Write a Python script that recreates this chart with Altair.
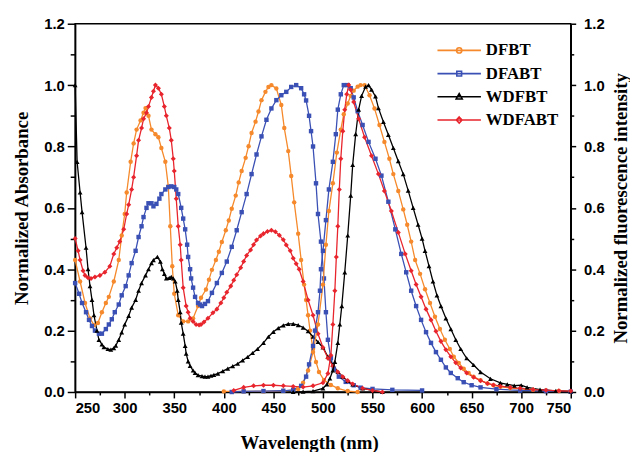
import altair as alt
import pandas as pd

SERIES = ["DFBT", "DFABT", "WDFBT", "WDFABT"]
COLORS = ["#F5892B", "#3A50B4", "#000000", "#E8242C"]
SHAPES = ["circle", "square", "triangle-up", "diamond"]
SIZES = [20, 20, 24, 26]

# ---------- absorbance ----------
DFBT_abs_nm = [250, 255, 260, 265, 269, 273, 277, 281, 284, 289, 294, 297, 300, 302, 306, 309, 312, 316, 319, 321,
               324, 327, 331, 334, 337, 341, 344, 346, 348, 350, 354, 359, 364, 369, 374, 377, 382, 385, 388, 392,
               395, 398, 402, 405, 408, 412, 415, 418, 422, 425, 428, 432, 435, 438, 442, 445, 448, 453, 458, 461,
               465, 468, 471, 475, 478, 481, 483, 485, 487, 490, 493, 496, 501, 508, 515, 525, 535]
DFBT_abs = [0.43, 0.36, 0.29, 0.24, 0.218, 0.225, 0.26, 0.29, 0.31, 0.36, 0.43, 0.51, 0.58, 0.65, 0.75, 0.81, 0.855,
            0.885, 0.91, 0.925, 0.90, 0.855, 0.84, 0.83, 0.795, 0.75, 0.67, 0.54, 0.41, 0.32, 0.25, 0.23, 0.23, 0.24,
            0.28, 0.307, 0.334, 0.366, 0.398, 0.43, 0.457, 0.489, 0.527, 0.559, 0.597, 0.64, 0.683, 0.72, 0.763,
            0.801, 0.844, 0.881, 0.914, 0.951, 0.978, 0.994, 1.0, 0.989, 0.935, 0.86, 0.785, 0.704, 0.618, 0.516,
            0.43, 0.35, 0.30, 0.25, 0.20, 0.14, 0.098, 0.065, 0.039, 0.023, 0.012, 0.003, 0.0]

DFABT_abs_nm = [250, 254, 257, 261, 264, 267, 270, 274, 277, 281, 284, 287, 290, 294, 297, 301, 304, 307, 311, 314,
                317, 319, 322, 324, 327, 329, 332, 335, 337, 341, 344, 347, 350, 352, 354, 357, 359, 361, 363, 364,
                366, 367, 369, 371, 374, 376, 378, 381, 384, 388, 393, 398, 403, 408, 413, 418, 423, 428, 433, 438,
                443, 448, 453, 458, 463, 468, 473, 478, 481, 483, 486, 488, 490, 493, 495, 498, 501, 503, 505, 508,
                511, 516, 523, 531, 538, 550, 570, 600]
DFABT_abs = [0.355, 0.32, 0.29, 0.26, 0.235, 0.215, 0.20, 0.19, 0.19, 0.205, 0.22, 0.237, 0.26, 0.285, 0.315, 0.345,
             0.38, 0.42, 0.46, 0.505, 0.54, 0.57, 0.60, 0.615, 0.615, 0.605, 0.613, 0.63, 0.645, 0.66, 0.668, 0.67,
             0.668, 0.66, 0.645, 0.60, 0.565, 0.53, 0.48, 0.44, 0.40, 0.37, 0.34, 0.31, 0.29, 0.285, 0.28, 0.287,
             0.296, 0.323, 0.355, 0.388, 0.425, 0.473, 0.527, 0.586, 0.645, 0.71, 0.774, 0.833, 0.887, 0.924, 0.951,
             0.967, 0.978, 0.994, 1.0, 0.99, 0.97, 0.95, 0.90, 0.85, 0.80, 0.68, 0.58, 0.49, 0.37, 0.26, 0.17, 0.11,
             0.076, 0.05, 0.033, 0.022, 0.014, 0.01, 0.007, 0.005]

WDFBT_abs_nm = [250, 252, 255, 257, 261, 263, 265, 267, 269, 272, 274, 277, 279, 283, 286, 289, 291, 294, 297, 300,
                304, 307, 311, 314, 317, 321, 324, 327, 329, 333, 336, 338, 340, 342, 345, 347, 349, 351, 353, 354,
                356, 357, 359, 361, 362, 364, 366, 369, 371, 374, 378, 381, 384, 387, 390, 394, 399, 404, 409, 414,
                419, 424, 429, 434, 440, 445, 450, 455, 460, 465, 470, 475, 480, 485, 490, 495, 500, 505, 510, 515,
                520, 525, 530, 540, 550, 560]
WDFBT_abs = [1.0, 0.75, 0.65, 0.586, 0.47, 0.40, 0.345, 0.30, 0.25, 0.20, 0.17, 0.155, 0.146, 0.14, 0.138, 0.143,
             0.151, 0.17, 0.194, 0.22, 0.248, 0.275, 0.30, 0.33, 0.355, 0.38, 0.40, 0.42, 0.43, 0.44, 0.425, 0.40,
             0.385, 0.37, 0.372, 0.375, 0.37, 0.36, 0.33, 0.30, 0.26, 0.226, 0.19, 0.15, 0.125, 0.10, 0.085, 0.07,
             0.062, 0.055, 0.052, 0.05, 0.05, 0.053, 0.056, 0.06, 0.068, 0.076, 0.084, 0.092, 0.103, 0.114, 0.127,
             0.14, 0.16, 0.18, 0.196, 0.208, 0.217, 0.222, 0.222, 0.218, 0.21, 0.198, 0.18, 0.163, 0.145, 0.115,
             0.088, 0.066, 0.05, 0.036, 0.025, 0.012, 0.005, 0.0]

WDFABT_abs_nm = [250, 253, 255, 258, 260, 263, 266, 270, 275, 280, 285, 289, 292, 295, 299, 302, 304, 307, 309, 312,
                 314, 317, 319, 322, 324, 327, 329, 331, 334, 337, 340, 342, 345, 347, 349, 350, 352, 354, 356, 357,
                 359, 362, 364, 366, 369, 372, 375, 377, 380, 384, 389, 393, 397, 400, 403, 407, 410, 413, 417, 420,
                 423, 427, 430, 433, 437, 440, 444, 448, 452, 456, 460, 463, 467, 470, 473, 476, 480, 485, 490, 495,
                 500, 505, 510, 515, 520, 525, 530, 540, 550, 560]
WDFABT_abs = [0.50, 0.46, 0.43, 0.395, 0.38, 0.372, 0.37, 0.375, 0.38, 0.39, 0.41, 0.45, 0.47, 0.49, 0.53, 0.58,
              0.61, 0.66, 0.70, 0.77, 0.82, 0.86, 0.89, 0.91, 0.93, 0.96, 0.98, 1.0, 0.99, 0.97, 0.93, 0.90, 0.86,
              0.82, 0.76, 0.72, 0.63, 0.54, 0.48, 0.43, 0.34, 0.28, 0.26, 0.24, 0.23, 0.22, 0.218, 0.22, 0.228, 0.24,
              0.258, 0.27, 0.29, 0.307, 0.325, 0.345, 0.364, 0.382, 0.405, 0.425, 0.445, 0.463, 0.48, 0.495, 0.508,
              0.516, 0.523, 0.527, 0.522, 0.511, 0.496, 0.479, 0.46, 0.436, 0.418, 0.40, 0.36, 0.30, 0.25, 0.19,
              0.145, 0.11, 0.085, 0.065, 0.05, 0.037, 0.026, 0.012, 0.005, 0.0]

# ---------- fluorescence ----------
DFBT_em_nm = [400, 420, 440, 460, 470, 475, 480, 485, 490, 495, 500, 503, 506, 510, 514, 518, 521, 525, 528, 531,
              535, 538, 542, 547, 552, 557, 562, 567, 571, 576, 581, 585, 589, 593, 598, 603, 608, 613, 618, 623,
              628, 632, 637, 642, 647, 652, 659, 666, 672, 679, 689, 699, 712, 725, 738, 750]
DFBT_em = [0.002, 0.002, 0.002, 0.004, 0.006, 0.01, 0.03, 0.07, 0.13, 0.22, 0.35, 0.48, 0.59, 0.68, 0.78, 0.855,
           0.905, 0.94, 0.965, 0.982, 0.995, 1.0, 1.0, 0.967, 0.924, 0.87, 0.815, 0.76, 0.71, 0.655, 0.595, 0.545,
           0.49, 0.43, 0.385, 0.335, 0.29, 0.245, 0.205, 0.17, 0.14, 0.115, 0.095, 0.076, 0.062, 0.05, 0.038,
           0.028, 0.022, 0.017, 0.013, 0.01, 0.007, 0.005, 0.003, 0.002]

DFABT_em_nm = [408, 420, 440, 460, 470, 478, 483, 486, 490, 492, 495, 497, 498, 500, 503, 506, 510, 513, 515, 518,
               521, 525, 528, 531, 535, 540, 546, 553, 559, 566, 573, 579, 584, 589, 594, 599, 604, 609, 614, 619,
               624, 629, 636, 642, 650, 659, 675, 699, 725, 750]
DFABT_em = [0.0, 0.002, 0.003, 0.004, 0.007, 0.02, 0.05, 0.09, 0.15, 0.20, 0.26, 0.33, 0.40, 0.46, 0.56, 0.66, 0.75,
            0.84, 0.92, 0.97, 1.0, 1.0, 0.99, 0.96, 0.915, 0.87, 0.815, 0.76, 0.705, 0.62, 0.53, 0.45, 0.39, 0.33,
            0.28, 0.235, 0.195, 0.16, 0.13, 0.105, 0.08, 0.062, 0.045, 0.032, 0.022, 0.015, 0.009, 0.005, 0.003,
            0.001]

WDFBT_em_nm = [470, 480, 490, 500, 504, 507, 510, 512, 515, 517, 519, 522, 525, 528, 530, 533, 536, 539, 543, 546,
               549, 553, 556, 561, 566, 571, 576, 581, 586, 591, 596, 600, 603, 607, 611, 615, 619, 624, 629, 634,
               639, 645, 652, 659, 669, 679, 686, 693, 700, 706, 719, 735, 750]
WDFBT_em = [0.0, 0.001, 0.003, 0.012, 0.025, 0.044, 0.07, 0.098, 0.16, 0.22, 0.28, 0.39, 0.51, 0.64, 0.74, 0.84,
            0.92, 0.965, 0.995, 1.0, 0.985, 0.963, 0.925, 0.88, 0.838, 0.795, 0.752, 0.71, 0.656, 0.60, 0.545, 0.50,
            0.46, 0.41, 0.36, 0.315, 0.28, 0.24, 0.205, 0.17, 0.14, 0.11, 0.088, 0.065, 0.043, 0.03, 0.025, 0.021,
            0.022, 0.015, 0.008, 0.004, 0.002]

WDFABT_em_nm = [410, 420, 430, 440, 450, 460, 470, 480, 490, 500, 505, 508, 510, 512, 513.5, 515, 516.5, 518, 520,
                522, 524, 526, 528, 531, 536, 542, 549, 556, 562, 569, 576, 583, 589, 594, 599, 604, 609, 614, 619,
                624, 629, 634, 639, 645, 652, 659, 666, 672, 679, 689, 699, 712, 725, 738, 750]
WDFABT_em = [0.005, 0.015, 0.02, 0.022, 0.022, 0.02, 0.018, 0.016, 0.02, 0.03, 0.06, 0.12, 0.22, 0.33, 0.44, 0.54,
             0.66, 0.76, 0.85, 0.92, 0.97, 1.0, 0.985, 0.945, 0.89, 0.83, 0.77, 0.71, 0.655, 0.59, 0.52, 0.45,
             0.395, 0.35, 0.31, 0.27, 0.235, 0.198, 0.165, 0.138, 0.115, 0.095, 0.078, 0.062, 0.048, 0.037, 0.028,
             0.023, 0.019, 0.015, 0.012, 0.008, 0.006, 0.004, 0.003]

X_TICKS = list(range(250, 751, 25))
Y_TICKS = [0.0, 0.1, 0.2, 0.3, 0.4, 0.5, 0.6, 0.7, 0.8, 0.9, 1.0, 1.1, 1.2]

# legend symbols: a line segment with the series marker in the middle
LEG_PATHS = [
    "M-1,0L1,0M-0.12,0A0.12,0.12,0,1,1,0.12,0A0.12,0.12,0,1,1,-0.12,0Z",
    "M-1,0L1,0M-0.11,-0.11L0.11,-0.11L0.11,0.11L-0.11,0.11Z",
    "M-1,0L1,0M0,-0.15L0.14,0.1L-0.14,0.1Z",
    "M-1,0L1,0M0,-0.14L0.13,0L0,0.14L-0.13,0Z",
]


def frame(nms, vals, name):
    return pd.DataFrame({"nm": nms, "v": vals, "series": name})


abs_df = pd.concat([frame(DFBT_abs_nm, DFBT_abs, "DFBT"), frame(DFABT_abs_nm, DFABT_abs, "DFABT"),
                    frame(WDFBT_abs_nm, WDFBT_abs, "WDFBT"), frame(WDFABT_abs_nm, WDFABT_abs, "WDFABT")],
                   ignore_index=True)
em_df = pd.concat([frame(DFBT_em_nm, DFBT_em, "DFBT"), frame(DFABT_em_nm, DFABT_em, "DFABT"),
                   frame(WDFBT_em_nm, WDFBT_em, "WDFBT"), frame(WDFABT_em_nm, WDFABT_em, "WDFABT")],
                  ignore_index=True)
legend_df = pd.DataFrame({"series": SERIES})

color_scale = alt.Scale(domain=SERIES, range=COLORS)


def legend_spec():
    return alt.Legend(orient="none", legendX=366, legendY=18, title=None, direction="vertical",
                      labelFont="Liberation Serif", labelFontSize=17, labelFontWeight="bold",
                      labelColor="black", symbolSize=1936, labelOffset=4, rowPadding=5.5, clipHeight=18,
                      padding=0, symbolStrokeWidth=1.6, symbolOpacity=1)


x_axis = alt.Axis(values=X_TICKS, title="Wavelength (nm)",
                  labelExpr="datum.value % 50 == 0 ? datum.label : ''",
                  tickSize={"condition": {"test": "datum.value % 50 == 0", "value": 6}, "value": 3},
                  labelPadding=3, titlePadding=18, titleX=237)
x_enc = alt.X("nm:Q", scale=alt.Scale(domain=[250, 750], nice=False, zero=False), axis=x_axis)

y_tick_size = {"condition": {"test": "round(datum.value*10) % 2 == 0", "value": 8}, "value": 5}
y_label_expr = "round(datum.value*10) % 2 == 0 ? format(datum.value, '.1f') : ''"

left_axis = alt.Axis(orient="left", values=Y_TICKS, title="Normalized Absorbance", labelExpr=y_label_expr,
                     tickSize=y_tick_size, labelPadding=3, titlePadding=12)
right_axis = alt.Axis(orient="right", values=Y_TICKS, title="Normalized fluorescence intensity",
                      labelExpr=y_label_expr, tickSize={"condition": {"test": "round(datum.value*10) % 2 == 0",
                                                                       "value": 5}, "value": 3},
                      labelPadding=8, titlePadding=8, titleAngle=270, titleBaseline="top")

color_enc = alt.Color("series:N", scale=color_scale, legend=legend_spec())


def side(df, axis):
    y = alt.Y("v:Q", scale=alt.Scale(domain=[0, 1.2], nice=False, zero=False), axis=axis)
    base = alt.Chart(df)
    line = base.mark_line(strokeWidth=1.3).encode(x=x_enc, y=y, color=color_enc, detail="series:N")
    layers = [line]
    for s, c, sh, sz in zip(SERIES, COLORS, SHAPES, SIZES):
        layers.append(base.transform_filter(alt.datum.series == s)
                      .mark_point(filled=True, opacity=1, shape=sh, size=sz, color=c)
                      .encode(x=x_enc, y=y))
    return layers


# invisible marks that only carry the legend (line + marker symbols)
legend_layer = alt.Chart(legend_df).mark_point(filled=False, size=0).encode(
    color=color_enc,
    shape=alt.Shape("series:N", scale=alt.Scale(domain=SERIES, range=LEG_PATHS), legend=legend_spec()),
    opacity=alt.value(0),
)

abs_side = alt.layer(legend_layer, *side(abs_df, left_axis))
em_side = alt.layer(*side(em_df, right_axis))

chart = alt.layer(abs_side, em_side).resolve_scale(y="independent").properties(
    width=502, height=373,
    autosize=alt.AutoSizeParams(type="none"),
    padding={"left": 68, "top": 13, "right": 60, "bottom": 70},
).configure_view(stroke="black", strokeWidth=1.5).configure_axis(
    grid=False, domainColor="black", domainWidth=1.5, tickColor="black", tickWidth=1.5,
    labelFont="Liberation Sans", labelFontWeight="bold", labelFontSize=15, labelColor="black",
    titleFont="Liberation Serif", titleFontWeight="bold", titleFontSize=19, titleColor="black",
)

chart.save("out.html", embed_options={"renderer": "svg", "actions": False})
